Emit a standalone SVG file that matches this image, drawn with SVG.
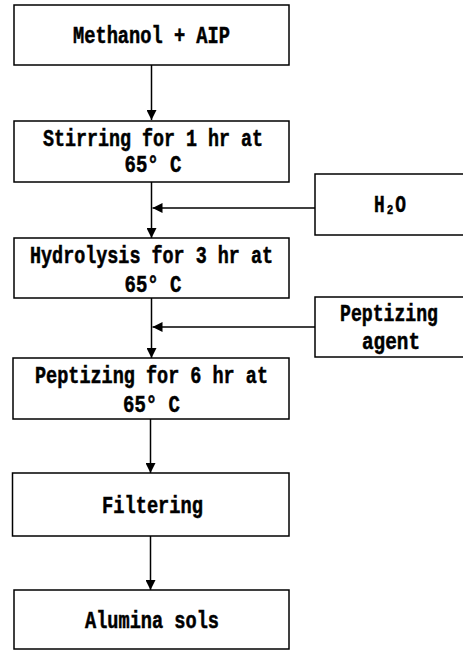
<svg xmlns="http://www.w3.org/2000/svg" width="463" height="650" viewBox="0 0 463 650">
<defs>
<style>
.box{fill:#fff;stroke:#000;stroke-width:1.5}
.t{font-family:"Liberation Mono","DejaVu Sans Mono",monospace;font-weight:bold;font-size:23px;fill:#000;stroke:#000;stroke-width:0.5}
.c{stroke:#000;stroke-width:1.5;fill:none}
</style>
<marker id="ah" viewBox="0 0 10 10" refX="10" refY="5" markerWidth="10" markerHeight="10" markerUnits="userSpaceOnUse" orient="auto">
<path d="M0,0 L10,5 L0,10 Z" fill="#000"/>
</marker>
</defs>
<rect width="463" height="650" fill="#fff"/>
<g id="connectors">
<line class="c" x1="151.5" y1="65" x2="151.5" y2="120" marker-end="url(#ah)"/>
<line class="c" x1="151.5" y1="182" x2="151.5" y2="238" marker-end="url(#ah)"/>
<line class="c" x1="315" y1="208" x2="152.5" y2="208" marker-end="url(#ah)"/>
<line class="c" x1="151.5" y1="298" x2="151.5" y2="358" marker-end="url(#ah)"/>
<line class="c" x1="315" y1="327" x2="152.5" y2="327" marker-end="url(#ah)"/>
<line class="c" x1="150.5" y1="419" x2="150.5" y2="473" marker-end="url(#ah)"/>
<line class="c" x1="150.5" y1="536" x2="150.5" y2="590" marker-end="url(#ah)"/>
</g>
<g id="n1">
<rect class="box" x="14" y="5" width="275" height="60"/>
<text class="t" x="151.5" y="43.3" text-anchor="middle" textLength="157" lengthAdjust="spacingAndGlyphs">Methanol + AIP</text>
</g>
<g id="n2">
<rect class="box" x="14" y="121" width="275" height="61"/>
<text class="t" x="153" y="146" text-anchor="middle" textLength="220" lengthAdjust="spacingAndGlyphs">Stirring for 1 hr at</text>
<text class="t" x="153" y="172" text-anchor="middle" textLength="57" lengthAdjust="spacingAndGlyphs">65° C</text>
</g>
<g id="n3">
<rect class="box" x="315" y="174" width="155" height="61"/>
<text class="t" x="390" y="212" text-anchor="middle" textLength="32" lengthAdjust="spacingAndGlyphs">H₂O</text>
</g>
<g id="n4">
<rect class="box" x="14" y="238" width="275" height="60"/>
<text class="t" x="151.5" y="263.3" text-anchor="middle" textLength="243" lengthAdjust="spacingAndGlyphs">Hydrolysis for 3 hr at</text>
<text class="t" x="153" y="291.7" text-anchor="middle" textLength="57" lengthAdjust="spacingAndGlyphs">65° C</text>
</g>
<g id="n5">
<rect class="box" x="315" y="297" width="155" height="60"/>
<text class="t" x="389" y="321.3" text-anchor="middle" textLength="98" lengthAdjust="spacingAndGlyphs">Peptizing</text>
<text class="t" x="391" y="348.7" text-anchor="middle" textLength="58" lengthAdjust="spacingAndGlyphs">agent</text>
</g>
<g id="n6">
<rect class="box" x="13" y="358" width="276" height="61"/>
<text class="t" x="151.5" y="383.3" text-anchor="middle" textLength="233" lengthAdjust="spacingAndGlyphs">Peptizing for 6 hr at</text>
<text class="t" x="151.5" y="411.7" text-anchor="middle" textLength="57" lengthAdjust="spacingAndGlyphs">65° C</text>
</g>
<g id="n7">
<rect class="box" x="12.5" y="473" width="276.5" height="63"/>
<text class="t" x="152.5" y="512.7" text-anchor="middle" textLength="101" lengthAdjust="spacingAndGlyphs">Filtering</text>
</g>
<g id="n8">
<rect class="box" x="14" y="590" width="275" height="59"/>
<text class="t" x="152" y="628.3" text-anchor="middle" textLength="134" lengthAdjust="spacingAndGlyphs">Alumina sols</text>
</g>
</svg>
